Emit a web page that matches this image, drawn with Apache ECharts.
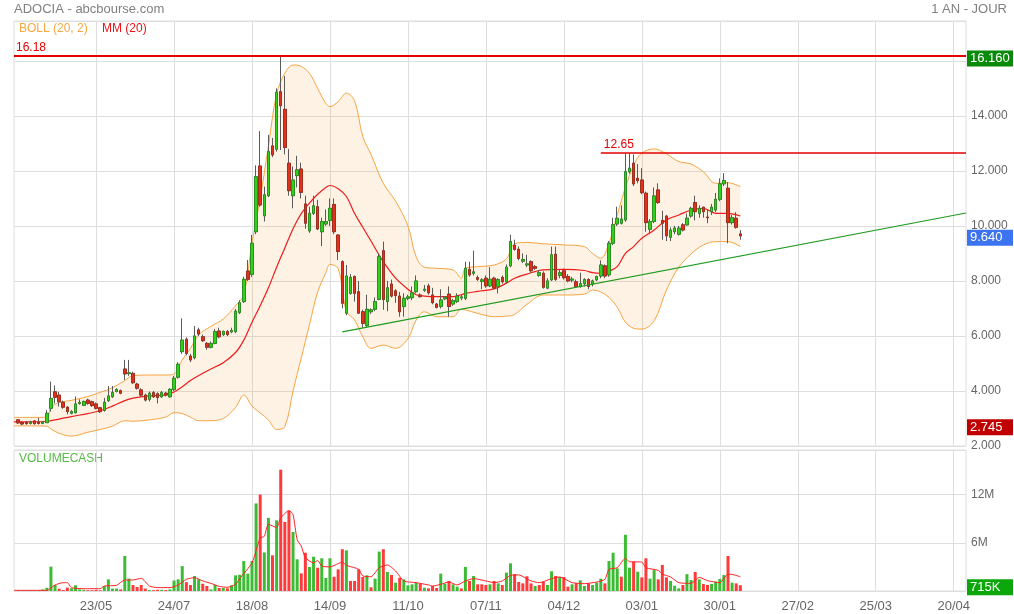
<!DOCTYPE html>
<html><head><meta charset="utf-8">
<script src="https://cdn.jsdelivr.net/npm/echarts@6/dist/echarts.min.js"></script>
<style>html,body{margin:0;padding:0;background:#fff}#c{width:1014px;height:614px}</style>
</head><body><div id="c"></div>
<script>
// ---- tick labels / axis ----
const xLabels = ['23/05','24/07','18/08','14/09','11/10','07/11','04/12','03/01','30/01','27/02','25/03','20/04'];
const LABEL_START = 20, LABEL_STEP = 19, TOTAL = 233, FIRST = 1;

// ---- daily candles [open, close, low, high] ----
const candles = [
[2.95,2.84,2.80,2.98],[2.85,2.80,2.76,2.90],[2.86,2.81,2.78,2.90],[2.82,2.87,2.78,2.92],[2.91,2.81,2.78,2.94],
[2.87,2.82,2.78,3.02],[2.82,2.87,2.79,2.90],[2.85,3.19,2.83,3.31],[3.37,3.73,3.25,4.34],[3.97,3.77,3.55,4.20],
[3.85,3.61,3.43,3.97],[3.59,3.41,3.35,3.65],[3.41,3.25,3.15,3.45],[3.19,3.25,3.15,3.30],[3.21,3.53,3.18,3.80],
[3.55,3.58,3.50,3.70],[3.48,3.62,3.45,3.65],[3.67,3.55,3.50,3.72],[3.61,3.47,3.42,3.65],[3.53,3.37,3.33,3.58],
[3.39,3.25,3.20,3.42],[3.29,3.59,3.25,3.75],[3.65,3.82,3.60,4.18],[3.79,3.94,3.75,4.18],[3.98,4.05,3.95,4.10],
[4.01,3.92,3.88,4.05],[4.80,4.62,4.40,5.13],[4.63,4.66,4.55,5.13],[4.64,4.30,4.25,4.70],[4.25,4.10,4.05,4.30],
[4.04,3.85,3.80,4.10],[3.85,3.67,3.62,3.90],[3.70,3.92,3.62,3.98],[3.94,3.79,3.75,4.00],[3.90,3.76,3.55,3.95],
[3.79,3.94,3.75,4.00],[3.92,3.86,3.80,3.97],[3.79,4.06,3.75,4.10],[4.06,4.46,4.00,4.55],[4.50,4.97,4.45,5.05],
[5.43,5.85,5.35,6.64],[5.88,5.37,5.30,5.95],[5.27,5.13,5.05,5.35],[5.21,6.00,5.15,6.36],[6.22,6.07,6.00,6.30],
[5.97,5.83,5.78,6.05],[5.73,5.59,5.50,5.78],[5.59,5.73,5.55,5.80],[5.73,6.16,5.70,6.25],[6.18,5.97,5.92,6.30],
[6.05,6.16,6.00,6.20],[6.16,6.05,6.00,6.22],[6.15,6.20,6.10,6.30],[6.16,6.90,6.10,6.98],[6.85,7.21,6.80,7.30],
[7.25,8.06,7.20,8.15],[8.36,8.06,8.00,8.76],[8.24,9.37,8.15,9.67],[9.79,11.79,9.70,12.20],[12.18,10.76,10.70,13.45],
[10.37,11.13,10.16,11.43],[11.10,12.70,11.05,13.31],[12.91,12.58,12.50,13.20],[12.79,14.86,12.70,15.00],[14.88,14.37,12.76,16.18],
[14.24,12.85,12.60,15.45],[12.28,11.28,11.10,12.80],[11.10,11.67,10.64,12.16],[11.83,12.04,11.40,12.55],[12.07,11.22,11.00,12.30],
[10.80,10.10,9.90,11.10],[9.82,10.46,9.75,10.70],[10.46,10.73,10.40,11.10],[10.70,9.89,9.85,10.95],[9.79,10.16,9.27,10.30],
[10.07,10.16,10.00,10.60],[10.20,10.64,10.00,11.00],[10.78,9.79,9.70,11.00],[9.67,9.07,8.76,9.70],[8.70,7.19,7.00,8.75],
[6.83,8.18,6.75,8.58],[7.55,8.13,7.50,8.25],[8.16,7.55,7.25,8.20],[7.61,6.83,6.80,8.00],[6.88,6.46,6.30,6.95],
[6.38,6.97,6.30,7.50],[6.88,6.95,6.80,7.00],[6.97,7.25,6.90,7.40],[7.33,8.88,7.30,9.00],[9.10,7.33,6.95,9.43],
[7.25,7.75,6.90,8.00],[7.89,7.45,7.40,8.05],[7.64,7.47,7.20,7.70],[7.45,6.88,6.70,7.60],[7.07,7.37,6.70,7.55],
[7.37,7.42,7.30,7.50],[7.39,7.57,7.30,7.80],[7.61,8.00,7.55,8.20],[7.49,7.43,7.40,7.55],[7.66,7.70,7.60,7.85],
[7.82,7.57,7.50,7.90],[7.49,7.21,7.15,7.75],[7.16,7.04,7.00,7.20],[7.07,7.31,7.00,7.70],[7.35,7.40,7.30,7.45],
[7.52,7.07,6.70,7.80],[7.16,7.28,7.10,7.35],[7.25,7.45,7.20,7.55],[7.38,7.42,7.30,7.50],[7.37,8.46,7.30,8.70],
[8.42,8.22,8.15,8.70],[8.28,8.33,8.20,9.10],[8.12,8.06,8.00,8.20],[7.98,8.04,7.70,8.10],[8.10,7.82,7.75,8.20],
[7.82,8.06,7.78,8.50],[8.10,7.74,7.70,8.15],[7.79,8.05,7.55,8.10],[8.13,7.97,7.90,8.20],[7.97,8.50,7.92,8.60],
[8.55,9.43,8.50,9.68],[9.30,9.15,9.10,9.50],[9.15,8.82,8.75,9.25],[8.72,8.78,8.65,9.00],[8.58,8.62,8.50,8.95],
[8.70,8.37,8.30,8.75],[8.52,8.46,8.40,8.58],[8.20,8.30,8.15,8.40],[8.28,7.77,7.72,8.35],[7.74,8.00,7.70,8.10],
[8.04,8.95,8.00,9.25],[8.97,8.06,8.00,9.25],[8.20,8.30,8.10,8.40],[8.37,8.12,8.05,8.45],[8.16,8.00,7.95,8.25],
[8.03,8.07,7.95,8.15],[7.97,7.80,7.75,8.05],[7.80,7.90,7.75,8.30],[7.90,8.05,7.80,8.10],[8.05,7.80,7.70,8.10],
[7.89,8.00,7.80,8.05],[8.04,8.16,8.00,8.20],[8.18,8.58,8.10,8.75],[8.55,8.18,8.10,8.60],[8.22,9.37,8.15,9.45],
[9.37,10.04,9.30,10.30],[10.07,10.28,10.00,10.70],[10.10,10.25,10.05,10.75],[10.22,11.97,10.15,12.64],[11.97,12.10,11.90,12.65],
[12.28,11.53,11.45,12.60],[11.73,11.65,11.55,12.25],[11.67,11.21,11.15,12.10],[11.19,10.12,9.79,11.25],[9.88,10.16,9.70,10.25],
[10.16,11.09,10.10,11.40],[11.31,10.85,10.80,11.55],[10.20,10.10,9.50,10.55],[10.36,9.64,9.45,10.40],[9.59,9.85,9.45,9.95],
[9.79,9.92,9.70,10.00],[9.70,9.92,9.65,10.00],[10.04,9.85,9.80,10.10],[10.04,10.28,10.00,10.45],[10.36,10.64,10.30,10.70],
[10.85,10.52,10.20,11.10],[10.46,10.64,10.30,10.75],[10.68,10.52,10.30,10.70],[10.32,10.30,10.10,10.60],[10.52,10.68,10.40,10.80],
[10.58,10.97,10.50,11.20],[10.97,11.53,10.90,11.73],[11.53,11.65,11.45,11.92],[11.37,10.12,9.37,11.60],[10.12,10.30,10.05,10.40],
[10.28,9.95,9.90,10.50],[9.71,9.64,9.50,9.85]
];

// ---- daily volume (millions) ----
const volumes = [
0.08,0.06,0.05,0.06,0.05,0.10,0.20,0.40,3.03,0.75,
0.29,0.12,0.42,0.33,0.71,0.20,0.15,0.10,0.10,0.15,
0.10,0.62,1.45,0.30,0.30,0.20,4.36,1.54,0.75,0.50,
0.75,0.30,0.12,0.10,0.15,0.15,0.12,0.20,1.30,1.45,
3.10,1.10,0.75,1.87,1.45,0.90,0.62,0.20,0.75,0.37,
0.37,0.33,0.70,1.95,2.03,3.73,2.16,3.73,10.9,12.0,
4.80,9.10,4.44,8.80,15.1,8.60,10.0,7.35,3.94,2.20,
4.77,3.00,4.27,2.90,4.07,1.62,4.07,1.78,2.70,5.20,
5.06,1.25,1.25,2.70,1.74,1.95,0.46,1.54,4.90,5.20,
2.37,2.00,1.04,1.66,1.45,0.70,0.83,1.04,0.91,0.41,
0.33,0.62,0.37,2.16,0.90,1.25,0.83,0.54,0.33,3.00,
1.25,1.87,0.83,0.83,0.75,0.83,1.25,0.95,0.75,2.28,
3.44,2.10,1.12,0.95,1.83,0.95,0.62,0.75,1.12,0.75,
2.45,1.87,1.74,1.74,0.54,0.83,0.95,1.33,0.62,0.95,
0.75,1.04,1.54,0.95,3.73,4.77,2.82,1.78,7.00,2.90,
3.65,2.40,1.70,4.07,1.54,2.60,1.45,3.24,1.70,1.25,
0.66,0.33,0.75,2.10,1.37,2.37,1.45,0.87,0.75,0.87,
1.16,1.50,1.99,4.36,1.04,0.95,0.72
];

// ---- Bollinger (20,2) and MM(20), read at these day indices ----
const bandIdx = [0,4,8,9,11,14,18,21,24,27,29,33,37,39,41,43,45,48,51,54,56,58,60,62,64,66,68,70,72,74,76,77,79,81,83,85,87,90,93,96,98,100,103,107,109,110,113,117,120,122,125,129,134,139,141,143,145,147,149,151,153,156,159,162,165,168,171,174,177];
const bollUpper = [3.04,3.04,3.05,3.40,3.58,3.66,3.80,3.95,4.12,4.38,4.56,4.58,4.58,4.62,5.13,5.55,6.04,6.35,6.62,7.10,7.50,9.40,11.0,12.9,14.8,15.55,15.85,15.8,15.55,15.0,14.45,14.34,14.52,14.83,14.55,13.25,12.6,11.55,10.9,10.0,8.88,8.50,8.46,8.40,8.10,8.46,8.52,8.58,8.80,9.35,9.40,9.35,9.31,9.25,9.00,8.82,9.37,10.40,11.40,12.20,12.65,12.80,12.62,12.34,12.25,11.97,11.55,11.57,11.43];
const bollLower = [2.73,2.73,2.72,2.62,2.46,2.36,2.50,2.60,2.72,2.92,2.90,2.95,3.05,3.21,3.18,3.05,2.92,2.92,3.00,3.40,3.85,3.45,3.20,2.95,2.60,2.70,4.00,5.20,6.40,7.60,8.30,8.60,8.45,6.90,6.58,5.97,5.55,5.67,5.55,5.90,6.58,6.88,6.70,6.70,6.97,6.95,6.82,6.70,6.72,6.78,7.15,7.49,7.49,7.52,7.67,7.60,7.40,7.05,6.50,6.28,6.25,6.55,7.67,8.50,8.98,9.31,9.43,9.43,9.25];
const mm20 = [2.88,2.88,2.89,2.92,2.98,3.07,3.18,3.28,3.45,3.65,3.74,3.82,3.85,3.96,4.15,4.38,4.56,4.80,5.03,5.40,5.85,6.50,7.10,7.75,8.50,9.20,9.90,10.45,10.83,11.15,11.40,11.47,11.35,11.07,10.45,9.95,9.45,8.70,8.10,7.70,7.50,7.45,7.43,7.43,7.50,7.55,7.62,7.71,7.92,8.10,8.25,8.40,8.42,8.38,8.30,8.28,8.35,8.52,9.00,9.25,9.55,9.85,10.22,10.40,10.58,10.64,10.46,10.46,10.36];

// ---- volume moving average (millions) ----
const volMaIdx = [0,8,10,12,13,14,17,21,22,25,27,29,31,33,35,38,40,42,44,46,48,50,52,54,55,58,60,61,62,64,65,67,68,69,70,71,73,74,75,77,79,80,81,84,85,87,89,91,93,95,98,101,102,104,106,108,110,112,115,117,119,121,123,126,128,131,133,136,139,142,144,145,147,149,150,153,154,157,158,160,162,165,167,169,172,174,175,177];
const volMa = [0.08,0.08,0.75,1.04,1.04,0.42,0.29,0.29,0.62,0.71,1.37,1.37,1.58,0.62,0.42,0.42,0.75,1.45,1.66,1.25,0.95,0.58,0.46,0.83,1.54,3.5,6.6,6.8,8.3,7.9,9.1,10.0,9.5,6.4,5.6,4.15,3.5,3.8,3.1,3.0,3.4,3.6,3.2,2.7,1.87,1.78,2.9,3.24,2.49,1.25,1.04,0.75,0.62,0.83,1.12,0.75,1.25,1.54,1.25,1.04,1.25,1.95,2.0,1.25,1.04,1.54,1.74,1.04,0.91,1.12,1.45,2.7,2.9,4.07,3.65,3.6,2.9,2.57,2.1,1.75,1.04,0.95,1.7,1.29,1.04,2.1,2.07,1.78];

// ---- reference levels ----
const highLine = 16.18, resistance = 12.65, resistanceFrom = 143;
const trendFrom = [80, 6.15], trendTo = [232, 10.47];
const boxHigh = 16.16, boxLast = 9.64, boxLow = 2.745, boxVol = 0.715;

// ---------------------------------------------------------------
const FONT = 'Liberation Sans, Arial, sans-serif';
const UP = '#2fd11a', UPB = '#1b8c12', DN = '#e3301d', DNB = '#a3200f', WICK = '#5a5a5a';
const ORANGE = '#f6a441', FILL = 'rgba(247,166,66,0.2)', GRID = '#dedede', TXT = '#666';
const HIDDEN = {color: 'rgba(0,0,0,0)', width: 0, type: 'solid'};
const RED = '#e60000';

const cats = Array.from({length: TOTAL}, (_, i) => 'd' + i);
const labelAt = new Map(xLabels.map((l, k) => [LABEL_START + k * LABEL_STEP, l]));

const candleRows = candles.map((c, i) => [FIRST + i, c[0], c[1], c[2], c[3]]);
const bodyRows = candles.map((c, i) => [FIRST + i, c[0], c[1], Math.min(c[0], c[1]), Math.max(c[0], c[1])]);
const volRows = volumes.map((v, i) => {
  const prev = i > 0 ? candles[i - 1][1] : candles[i][0];
  const up = candles[i][1] >= prev;
  return {value: [FIRST + i, v], itemStyle: {color: up ? '#3dbb35' : '#ff3a3a'}};
});

const boxLabel = (bg, txt) => ({
  show: true, position: 'end', distance: 1, formatter: txt, offset: [0, 2],
  backgroundColor: bg, color: '#fff', fontFamily: FONT, fontSize: 13,
  padding: [2, 3, 1, 3], width: 40
});

const xBase = (grid, showLabels) => ({
  type: 'category', gridIndex: grid, data: cats, boundaryGap: false,
  axisLine: {show: false}, axisTick: {show: false},
  axisLabel: {show: showLabels, interval: (i) => labelAt.has(i), formatter: (v, i) => labelAt.get(i) || '',
    color: TXT, fontFamily: FONT, fontSize: 13, margin: 9},
  splitLine: {show: true, interval: (i) => labelAt.has(i), lineStyle: {color: GRID, width: 1}}
});

const option = {
  animation: false,
  backgroundColor: '#fff',
  grid: [
    {left: 14, right: 48, top: 21, height: 425, show: true, borderColor: GRID, borderWidth: 1},
    {left: 14, right: 48, top: 450, height: 141, show: true, borderColor: GRID, borderWidth: 1}
  ],
  xAxis: [xBase(0, false), xBase(1, true)],
  yAxis: [
    {type: 'value', gridIndex: 0, position: 'right', min: 2, max: 17.45, interval: 2,
      axisLine: {show: false}, axisTick: {show: false},
      splitLine: {lineStyle: {color: GRID}},
      axisLabel: {formatter: (v) => v.toFixed(3), color: TXT, fontFamily: FONT, fontSize: 12, margin: 5,
        padding: [0, 0, 4, 0], showMaxLabel: false}},
    {type: 'value', gridIndex: 1, position: 'right', min: 0, max: 17.55, interval: 6,
      axisLine: {show: false}, axisTick: {show: false},
      splitLine: {lineStyle: {color: GRID}},
      axisLabel: {formatter: (v) => v + 'M', color: TXT, fontFamily: FONT, fontSize: 12, margin: 5,
        padding: [0, 0, 4, 0], showMaxLabel: false}}
  ],
  graphic: [
    {type: 'text', left: 14, top: 3, style: {text: 'ADOCIA - abcbourse.com', fill: '#808080', font: '13px ' + FONT}},
    {type: 'text', right: 7, top: 3, style: {text: '1 AN - JOUR', fill: '#808080', font: '13px ' + FONT}},
    {type: 'text', left: 19, top: 23, style: {text: 'BOLL (20, 2)', fill: '#f5a742', font: '12px ' + FONT}},
    {type: 'text', left: 102, top: 23, style: {text: 'MM (20)', fill: '#e8141a', font: '12px ' + FONT}},
    {type: 'text', left: 19, top: 453, style: {text: 'VOLUMECASH', fill: '#55bb44', font: '12px ' + FONT}}
  ],
  series: [
    {name: 'bollLow', type: 'line', xAxisIndex: 0, yAxisIndex: 0, stack: 'boll', smooth: 0.35, symbol: 'none',
      data: bandIdx.map((x, i) => [x, bollLower[i]]), lineStyle: {color: ORANGE, width: 1}, z: 1},
    {name: 'bollBand', type: 'line', xAxisIndex: 0, yAxisIndex: 0, stack: 'boll', smooth: 0.35, symbol: 'none',
      data: bandIdx.map((x, i) => [x, bollUpper[i] - bollLower[i]]), lineStyle: {color: ORANGE, width: 1},
      areaStyle: {color: FILL}, z: 1},
    {name: 'mm20', type: 'line', xAxisIndex: 0, yAxisIndex: 0, smooth: 0.35, symbol: 'none',
      data: bandIdx.map((x, i) => [x, mm20[i]]), lineStyle: {color: '#ee1c1c', width: 1.2}, z: 2},
    {name: 'resistance', type: 'line', xAxisIndex: 0, yAxisIndex: 0, symbol: 'none', silent: true,
      data: [[resistanceFrom, resistance], [TOTAL - 1, resistance]],
      lineStyle: {color: RED, width: 1.4}, z: 5,
      markPoint: {silent: true, symbol: 'circle', symbolSize: 0, animation: false,
        data: [{coord: [resistanceFrom, resistance],
          label: {show: true, position: 'right', formatter: String(resistance), color: RED,
            fontFamily: FONT, fontSize: 12, offset: [0, -8], distance: 3}}]}},
    {name: 'trend', type: 'line', xAxisIndex: 0, yAxisIndex: 0, symbol: 'none', silent: true,
      data: [trendFrom, trendTo], lineStyle: {color: '#1f9a1f', width: 1.2}, z: 5},
    {name: 'wicks', type: 'candlestick', xAxisIndex: 0, yAxisIndex: 0, barWidth: 3,
      encode: {x: 0, y: [1, 2, 3, 4]}, data: candleRows,
      itemStyle: {color: WICK, color0: WICK, borderColor: WICK, borderColor0: WICK, borderWidth: 1}, z: 3,
      markLine: {silent: true, symbol: 'none', animation: false, data: [
        {yAxis: highLine, lineStyle: {color: RED, width: 2, type: 'solid'},
          label: {show: true, position: 'insideStartTop', formatter: String(highLine), color: RED, fontFamily: FONT, fontSize: 12, distance: 2}}
      ]}},
    {name: 'bodies', type: 'candlestick', xAxisIndex: 0, yAxisIndex: 0, barWidth: 3,
      encode: {x: 0, y: [1, 2, 3, 4]}, data: bodyRows,
      itemStyle: {color: UP, color0: DN, borderColor: UPB, borderColor0: DNB, borderWidth: 0.6}, z: 4,
      markLine: {silent: true, symbol: 'none', animation: false, lineStyle: HIDDEN, data: [
        {yAxis: boxHigh, label: boxLabel('#0a8a0a', boxHigh.toFixed(3))},
        {yAxis: boxLast, label: boxLabel('#3b73f0', boxLast.toFixed(3))},
        {yAxis: boxLow, label: boxLabel('#c00000', boxLow.toFixed(3))}
      ]}},
    {name: 'vol', type: 'bar', xAxisIndex: 1, yAxisIndex: 1, barWidth: 3, data: volRows, z: 2,
      markLine: {silent: true, symbol: 'none', animation: false, lineStyle: HIDDEN, data: [
        {yAxis: boxVol, label: boxLabel('#0aa60a', Math.round(boxVol * 1000) + 'K')}
      ]}},
    {name: 'volMa', type: 'line', xAxisIndex: 1, yAxisIndex: 1, symbol: 'none', smooth: 0.2,
      data: volMaIdx.map((x, i) => [x, volMa[i]]), lineStyle: {color: '#ff2020', width: 1}, z: 3}
  ]
};
echarts.init(document.getElementById('c'), null, {renderer: 'canvas'}).setOption(option);
</script>
</body></html>
